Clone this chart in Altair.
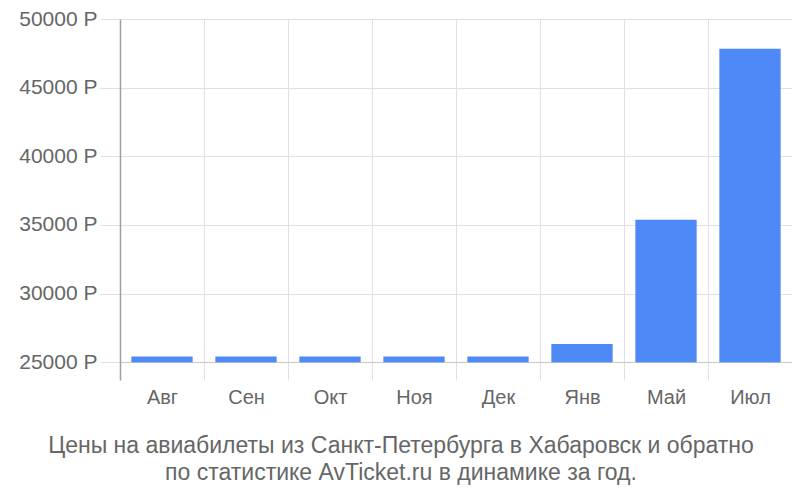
import altair as alt
import pandas as pd

months = ["Авг", "Сен", "Окт", "Ноя", "Дек", "Янв", "Май", "Июл"]
prices = [25410, 25410, 25410, 25410, 25410, 26330, 35370, 47840]
y_ticks = [25000, 30000, 35000, 40000, 45000, 50000]
title_lines = [
    "Цены на авиабилеты из Санкт-Петербурга в Хабаровск и обратно",
    "по статистике AvTicket.ru в динамике за год.",
]

df = pd.DataFrame({"month": months, "price": prices})

chart = (
    alt.Chart(df)
    .mark_bar(color="#4e89f8", width=alt.RelativeBandSize(0.73))
    .encode(
        x=alt.X(
            "month:N",
            sort=months,
            title=None,
            scale=alt.Scale(paddingInner=0, paddingOuter=0),
            axis=alt.Axis(
                tickBand="extent",
                grid=True,
                gridColor="#e0e0e0",
                ticks=False,
                domain=False,
                labelFontSize=20,
                labelColor="#666666",
                labelFont="Liberation Sans",
                labelPadding=7,
                labelAngle=0,
            ),
        ),
        y=alt.Y(
            "price:Q",
            title=None,
            scale=alt.Scale(domain=[23700, 50000], nice=False, zero=False),
            axis=alt.Axis(
                values=y_ticks,
                labelExpr="datum.value + ' Р'",
                grid=True,
                gridColor=alt.condition(
                    "datum.value === 25000", alt.value("#c6c6c6"), alt.value("#e0e0e0")
                ),
                tickColor="#e0e0e0",
                tickSize=20,
                domainColor="#a0a0a0",
                domainWidth=1.5,
                labelFontSize=21,
                labelColor="#666666",
                labelFont="Liberation Sans",
                labelPadding=3,
                labelBaseline="middle",
            ),
        ),
        y2=alt.datum(25000),
    )
    .properties(
        width=672,
        height=361,
        autosize=alt.AutoSizeParams(type="none"),
        padding={"left": 112, "top": 11, "right": 0, "bottom": 110},
        title=alt.TitleParams(
            text=title_lines,
            orient="bottom",
            anchor="middle",
            fontSize=23,
            fontWeight="normal",
            color="#666666",
            font="Liberation Sans",
            lineHeight=27,
            offset=28,
            dx=-55,
        ),
    )
    .configure_view(stroke=None)
)

chart.save("out.html", embed_options={"renderer": "svg", "actions": False})
